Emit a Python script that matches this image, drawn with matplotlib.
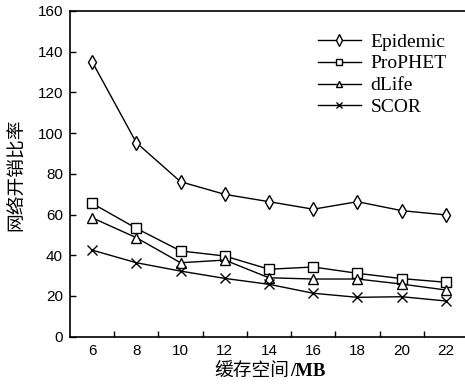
import matplotlib
matplotlib.use("Agg")
import matplotlib.pyplot as plt
from matplotlib.ticker import FixedLocator

buffer_sizes = ["6", "8", "10", "12", "14", "16", "18", "20", "22"]
epidemic = [135.1, 95.3, 76.1, 69.9, 66.3, 62.6, 66.3, 61.9, 59.8]
prophet = [65.5, 53.2, 42.1, 39.6, 33.1, 34.2, 31.1, 28.5, 26.7]
dlife = [58.4, 48.6, 36.3, 37.6, 28.9, 28.3, 28.3, 25.8, 22.9]
scor = [42.5, 36.3, 32.2, 28.6, 25.7, 21.3, 19.3, 19.6, 17.5]
series_names = ["Epidemic", "ProPHET", "dLife", "SCOR"]
y_ticks = [0, 20, 40, 60, 80, 100, 120, 140, 160]

W, H = 465, 385
fig = plt.figure(figsize=(W / 100, H / 100), dpi=100)
ax = fig.add_axes([70 / W, (H - 336.6) / H, (468 - 70) / W, (336.6 - 11) / H])

x = list(range(len(buffer_sizes)))
styles = [("d", 7.5, "white"), ("s", 6.5, "white"), ("^", 6.5, "white"), ("x", 6.5, "black")]
for vals, name, (m, ms, fc) in zip([epidemic, prophet, dlife, scor], series_names, styles):
    ax.plot(x, vals, color="black", lw=1.0, marker=m, ms=ms, mfc=fc,
            mec="black", mew=1.0, label=name)

ax.set_xlim(-0.5, len(buffer_sizes) - 0.5)
ax.set_ylim(0, 160)
ax.set_xticks(x)
ax.set_xticklabels(buffer_sizes, family="Liberation Sans", fontsize=11)
ax.xaxis.set_minor_locator(FixedLocator([i + 0.5 for i in range(len(buffer_sizes) - 1)]))
ax.tick_params(axis="x", which="major", length=0, pad=5.5)
ax.tick_params(axis="x", which="minor", length=4, direction="in", width=1)
ax.set_yticks(y_ticks)
ax.set_yticklabels([str(v) for v in y_ticks], family="Liberation Sans", fontsize=11)
ax.tick_params(axis="y", length=4, direction="in", width=1, pad=5)
for s in ax.spines.values():
    s.set_linewidth(1.2)

# x label: CJK part regular, "/MB" bold serif
fig.canvas.draw()
r = fig.canvas.get_renderer()
t1 = fig.text(0, 1 - 371 / H, "缓存空间", ha="left", va="center",
              fontsize=13.5, family=["Noto Sans CJK SC"])
t2 = fig.text(0, 1 - 371 / H, "/MB", ha="left", va="center",
              fontsize=13.5, family=["Liberation Serif"], fontweight="bold")
w1 = t1.get_window_extent(r).width
w2 = t2.get_window_extent(r).width
x0 = 270 - (w1 + w2) / 2
t1.set_x(x0 / W)
t2.set_x((x0 + w1) / W)

fig.text(16 / W, 1 - 175 / H, "网络开销比率", ha="center", va="center", rotation=90,
         fontsize=13.5, family=["Noto Sans CJK SC"])

leg = ax.legend(loc="upper left", bbox_to_anchor=(318 / W, 1 - 33 / H),
                bbox_transform=fig.transFigure, frameon=False,
                prop={"family": "Liberation Serif", "size": 14},
                handlelength=2.2, handletextpad=0.5, labelspacing=0.22,
                markerscale=0.75, borderpad=0, borderaxespad=0)

fig.savefig("out.png", dpi=100)
